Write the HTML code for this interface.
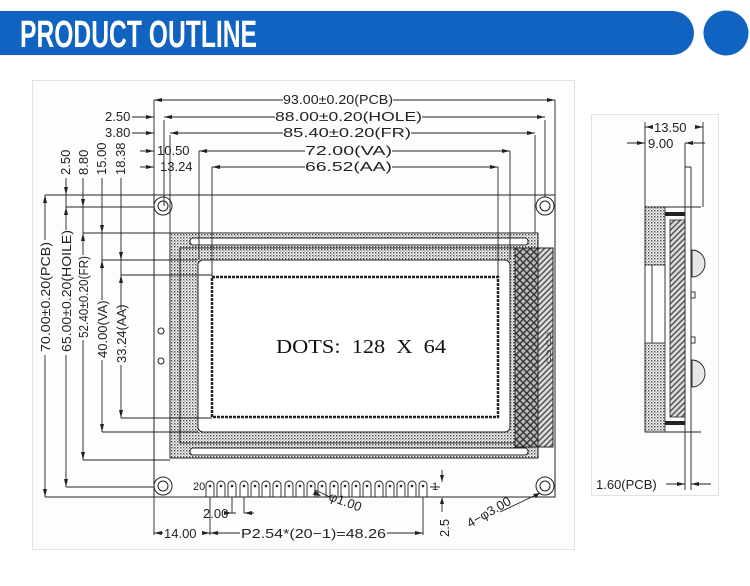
<!DOCTYPE html>
<html><head><meta charset="utf-8"><style>
html,body{margin:0;padding:0;background:#fff;width:750px;height:586px;overflow:hidden}
svg{display:block}
text{font-family:"Liberation Sans",sans-serif;fill:#222}
</style></head><body>
<svg width="750" height="586" viewBox="0 0 750 586" xmlns="http://www.w3.org/2000/svg">
<defs>
<pattern id="dots" width="3" height="3" patternUnits="userSpaceOnUse"><rect width="3" height="3" fill="#fff"/><rect x="0" y="0" width="1.4" height="1.4" fill="#444"/><rect x="1.5" y="1.5" width="1.1" height="1.1" fill="#666"/></pattern>
<pattern id="hatch" width="4" height="4" patternUnits="userSpaceOnUse" patternTransform="rotate(45)"><rect width="4" height="4" fill="#ddd"/><rect width="1.5" height="4" fill="#555"/></pattern>
<pattern id="xhatch" width="5" height="5" patternUnits="userSpaceOnUse" patternTransform="rotate(45)"><rect width="5" height="5" fill="#bbb"/><rect width="1.4" height="5" fill="#333"/><rect width="5" height="1.4" fill="#333"/></pattern>
</defs>
<!-- header -->
<path d="M0 11 H672 A22 22 0 0 1 672 55 H0 Z" fill="#1163c2"/>
<circle cx="726" cy="33" r="22.5" fill="#1163c2"/>
<text x="20" y="47" font-size="38" font-weight="bold" textLength="237" lengthAdjust="spacingAndGlyphs" style="fill:#fff;font-family:'Liberation Sans Narrow','Liberation Sans',sans-serif">PRODUCT OUTLINE</text>
<!-- panels -->
<rect x="32.5" y="80.5" width="542" height="469" fill="#fdfdfd" stroke="#e2e2e2"/>
<rect x="591.5" y="114.5" width="127" height="381" fill="#fdfdfd" stroke="#e2e2e2"/>

<g stroke="#222" stroke-width="1" fill="none">
<rect x="154" y="195" width="401" height="302"/>
<circle cx="163" cy="206" r="9"/><circle cx="163" cy="206" r="5"/>
<circle cx="545" cy="206" r="9"/><circle cx="545" cy="206" r="5"/>
<circle cx="163" cy="486" r="9"/><circle cx="163" cy="486" r="5"/>
<circle cx="545" cy="486" r="9"/><circle cx="545" cy="486" r="5"/>
<circle cx="161" cy="331" r="3"/><circle cx="161" cy="361" r="3"/>
</g>
<!-- frame -->
<rect x="170" y="233" width="368" height="225" fill="url(#dots)" stroke="#222"/>
<rect x="515" y="248" width="23" height="199" fill="url(#xhatch)" stroke="#222"/>
<rect x="538" y="248" width="15" height="199" fill="url(#hatch)" stroke="#222"/>
<rect x="180" y="248" width="335" height="195" fill="none" stroke="#222"/>
<rect x="190" y="238" width="338" height="7" rx="3" fill="#fff" stroke="#222"/>
<rect x="190" y="448" width="338" height="7" rx="3" fill="#fff" stroke="#222"/>
<rect x="198" y="260" width="312" height="172" rx="5" fill="#fff" stroke="#222"/>
<rect x="212" y="277" width="286" height="140" fill="#fff" stroke="#222" stroke-width="2.5" stroke-dasharray="3 1"/>
<text x="276" y="353" font-size="20" style="font-family:'Liberation Serif',serif;fill:#111" textLength="170" lengthAdjust="spacingAndGlyphs" xml:space="preserve">DOTS:  128  X  64</text>
<text transform="translate(546,348) rotate(90)" font-size="9" text-anchor="middle">⊂⊃ ⊂⊃</text>

<!-- pins -->
<g stroke="#222" fill="none" stroke-width="0.9">
<path d="M206 497 V485 A4 4 0 0 1 214 485 V497"/>
<path d="M217 497 V485 A4 4 0 0 1 225 485 V497"/>
<path d="M228 497 V485 A4 4 0 0 1 236 485 V497"/>
<path d="M240 497 V485 A4 4 0 0 1 248 485 V497"/>
<path d="M251 497 V485 A4 4 0 0 1 259 485 V497"/>
<path d="M262 497 V485 A4 4 0 0 1 270 485 V497"/>
<path d="M273 497 V485 A4 4 0 0 1 281 485 V497"/>
<path d="M285 497 V485 A4 4 0 0 1 293 485 V497"/>
<path d="M296 497 V485 A4 4 0 0 1 304 485 V497"/>
<path d="M307 497 V485 A4 4 0 0 1 315 485 V497"/>
<path d="M318 497 V485 A4 4 0 0 1 326 485 V497"/>
<path d="M330 497 V485 A4 4 0 0 1 338 485 V497"/>
<path d="M341 497 V485 A4 4 0 0 1 349 485 V497"/>
<path d="M352 497 V485 A4 4 0 0 1 360 485 V497"/>
<path d="M363 497 V485 A4 4 0 0 1 371 485 V497"/>
<path d="M375 497 V485 A4 4 0 0 1 383 485 V497"/>
<path d="M386 497 V485 A4 4 0 0 1 394 485 V497"/>
<path d="M397 497 V485 A4 4 0 0 1 405 485 V497"/>
<path d="M408 497 V485 A4 4 0 0 1 416 485 V497"/>
<path d="M419 497 V485 A4 4 0 0 1 427 485 V497"/>
</g>
<g fill="#222">
<circle cx="210" cy="486" r="1.3"/><circle cx="221" cy="486" r="1.3"/><circle cx="232" cy="486" r="1.3"/><circle cx="244" cy="486" r="1.3"/><circle cx="255" cy="486" r="1.3"/><circle cx="266" cy="486" r="1.3"/><circle cx="277" cy="486" r="1.3"/><circle cx="289" cy="486" r="1.3"/><circle cx="300" cy="486" r="1.3"/><circle cx="311" cy="486" r="1.3"/><circle cx="322" cy="486" r="1.3"/><circle cx="334" cy="486" r="1.3"/><circle cx="345" cy="486" r="1.3"/><circle cx="356" cy="486" r="1.3"/><circle cx="367" cy="486" r="1.3"/><circle cx="379" cy="486" r="1.3"/><circle cx="390" cy="486" r="1.3"/><circle cx="401" cy="486" r="1.3"/><circle cx="412" cy="486" r="1.3"/><circle cx="423" cy="486" r="1.3"/>
</g>

<!-- dimension lines -->
<g stroke="#222" stroke-width="0.9" fill="none">
<path d="M154 100 V195 M164 120 V206 M170 135 V233 M199 151 V260 M212 167 V277"/>
<path d="M555 100 V195 M545 120 V197 M535 135 V233 M510 151 V260 M498 167 V277"/>
<path d="M154 100 H283 M393 100 H555"/>
<path d="M164 117 H275 M422 117 H545"/>
<path d="M170 133 H283 M411 133 H535"/>
<path d="M199 151 H305 M392 151 H510"/>
<path d="M212 167 H305 M392 167 H498"/>
<path d="M132 117 H154 M132 133 H154 M140 151 H154 M140 167 H154"/>
<path d="M45 195 H154 M66 207 H154 M83 233 H170 M102 260 H198 M121 275 H212"/>
<path d="M45 497 H154 M66 487 H154 M83 460 H170 M102 432 H198 M121 418 H212"/>
<path d="M45 195 V240 M45 355 V497"/>
<path d="M66 178 V230 M66 355 V487"/>
<path d="M83 178 V255 M83 340 V460"/>
<path d="M102 178 V300 M102 360 V432"/>
<path d="M121 178 V310 M121 365 V418"/>
<path d="M154 497 V535 M210 497 V535 M423 497 V535"/>
<path d="M154 533 H163 M206 533 H240 M387 533 H423"/>
<path d="M232 497 V513 M236 513 H226 M244 497 V513 M244 513 H254"/>
<path d="M430 487 H440 M442 470 V482 M442 502 V512 M555 497 H450"/>
<path d="M315 490 L330 497"/>
<path d="M500 512 L540 493"/>
</g>
<g fill="#222">
<path d="M154 100 l8 -2 v4z M555 100 l-8 -2 v4z M164 117 l8 -2 v4z M545 117 l-8 -2 v4z M170 133 l8 -2 v4z M535 133 l-8 -2 v4z M199 151 l8 -2 v4z M510 151 l-8 -2 v4z M212 167 l8 -2 v4z M498 167 l-8 -2 v4z"/>
<path d="M154 117 l-8 -2 v4z M154 133 l-8 -2 v4z M154 151 l-8 -2 v4z M154 167 l-8 -2 v4z"/>
<path d="M45 195 l-2 8 h4z M45 497 l-2 -8 h4z M66 207 l-2 8 h4z M66 487 l-2 -8 h4z M83 233 l-2 8 h4z M83 460 l-2 -8 h4z M102 260 l-2 8 h4z M102 432 l-2 -8 h4z M121 275 l-2 8 h4z M121 418 l-2 -8 h4z"/>
<path d="M66 195 l-2 -8 h4z M83 207 l-2 -8 h4z M102 233 l-2 -8 h4z M121 260 l-2 -8 h4z"/>
<path d="M154 533 l8 -2 v4z M210 533 l-8 -2 v4z M210 533 l8 -2 v4z M423 533 l-8 -2 v4z M232 513 l-8 -2 v4z M244 513 l8 -2 v4z M442 482 l-2 -7 h4z M442 497 l-2 7 h4z M315 490 l6 6 l-8 -1z M540 493 l-7 1 l3 4z"/>
</g>
<g font-size="13">
<text x="283" y="104" textLength="110" lengthAdjust="spacingAndGlyphs">93.00±0.20(PCB)</text>
<text x="275" y="121" textLength="147" lengthAdjust="spacingAndGlyphs">88.00±0.20(HOLE)</text>
<text x="283" y="137" textLength="128" lengthAdjust="spacingAndGlyphs">85.40±0.20(FR)</text>
<text x="305" y="155" textLength="87" lengthAdjust="spacingAndGlyphs">72.00(VA)</text>
<text x="305" y="171" textLength="87" lengthAdjust="spacingAndGlyphs">66.52(AA)</text>
<text x="105" y="121">2.50</text>
<text x="105" y="137">3.80</text>
<text x="157" y="155">10.50</text>
<text x="160" y="171">13.24</text>
<text transform="translate(70,175) rotate(-90)">2.50</text>
<text transform="translate(88,175) rotate(-90)">8.80</text>
<text transform="translate(106,175) rotate(-90)">15.00</text>
<text transform="translate(125,175) rotate(-90)">18.38</text>
<text transform="translate(50,352) rotate(-90)" textLength="110" lengthAdjust="spacingAndGlyphs">70.00±0.20(PCB)</text>
<text transform="translate(71,352) rotate(-90)" textLength="122" lengthAdjust="spacingAndGlyphs">65.00±0.20(HOILE)</text>
<text transform="translate(88,338) rotate(-90)" textLength="82" lengthAdjust="spacingAndGlyphs">52.40±0.20(FR)</text>
<text transform="translate(107,358) rotate(-90)">40.00(VA)</text>
<text transform="translate(126,363) rotate(-90)">33.24(AA)</text>
<text x="164" y="538">14.00</text>
<text x="241" y="538" textLength="145" lengthAdjust="spacingAndGlyphs">P2.54*(20−1)=48.26</text>
<text x="203" y="518">2.00</text>
<text transform="translate(449,537) rotate(-90)">2.5</text>
<text transform="translate(470,528) rotate(-30)">4−φ3.00</text>
<text transform="translate(328,500) rotate(20)">φ1.00</text>
<text x="193" y="490" font-size="11">20</text>
<text x="432" y="490" font-size="11">1</text>
</g>

<!-- side view -->
<g stroke="#222" stroke-width="0.9" fill="none">
<path d="M645 122 V207 M703 122 V207"/>
<path d="M645 127 H650 M703 127 H698"/>
<path d="M627 143 H645 M685 143 H705"/>
<path d="M685 143 V490 M691 167 V490 M685 167 H691"/>
<path d="M645 207 H701 M645 432 H701"/>
<path d="M645 207 V432"/>
<path d="M652 265 V343 M665 265 V343"/>
<path d="M692 250 A13 13.5 0 0 1 692 277 Z" fill="#e6e6e6"/>
<path d="M692 360 A13 13.5 0 0 1 692 387 Z" fill="#e6e6e6"/>
<rect x="691" y="292" width="4" height="6"/><rect x="691" y="337" width="4" height="6"/>
<path d="M666 484 H685 M691 484 H711"/>
</g>
<rect x="645" y="207" width="20" height="58" fill="url(#dots)" stroke="#222" stroke-width="0.8"/>
<rect x="645" y="343" width="20" height="89" fill="url(#dots)" stroke="#222" stroke-width="0.8"/>
<rect x="670" y="220" width="15" height="197" fill="url(#hatch)" stroke="#222" stroke-width="0.8"/>
<rect x="665" y="212" width="20" height="4" fill="#222"/>
<rect x="665" y="421" width="20" height="4" fill="#222"/>
<g fill="#222">
<path d="M645 127 l8 -2 v4z M703 127 l-8 -2 v4z M645 143 l-8 -2 v4z M685 143 l8 -2 v4z M685 484 l-8 -2 v4z M691 484 l8 -2 v4z"/>
</g>
<g font-size="13">
<text x="654" y="132">13.50</text>
<text x="648" y="148">9.00</text>
<text x="596" y="489">1.60(PCB)</text>
</g>
</svg>
</body></html>
